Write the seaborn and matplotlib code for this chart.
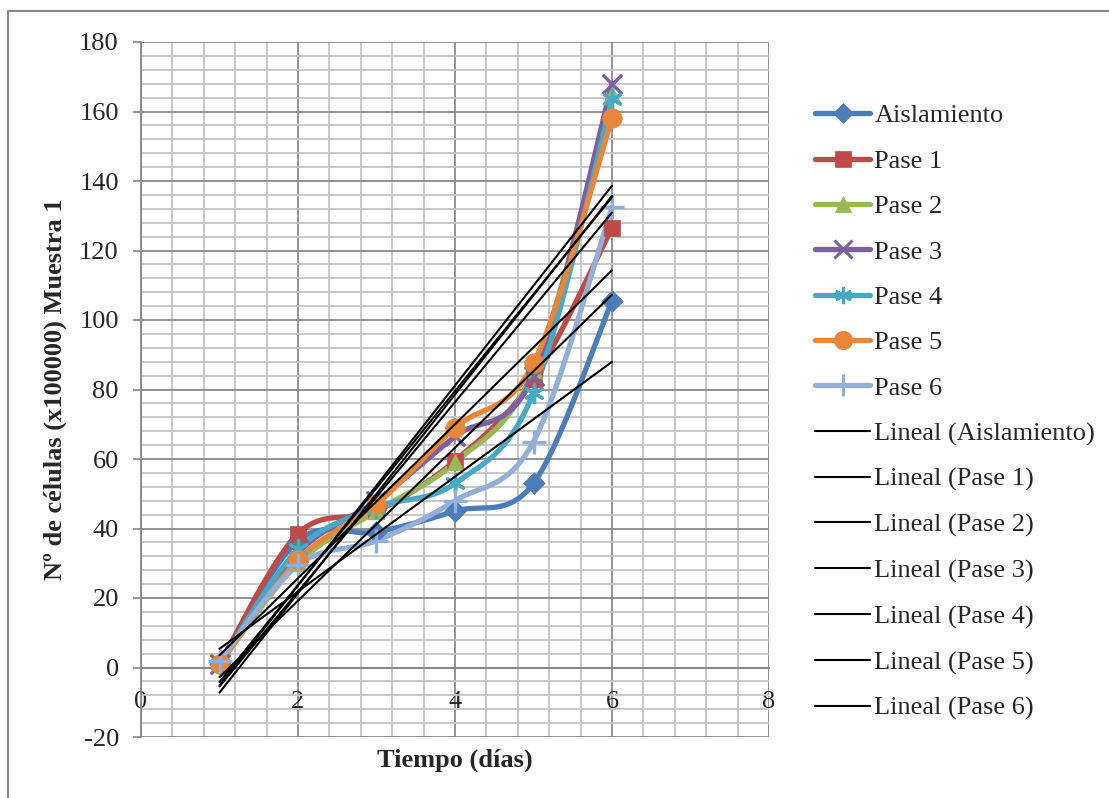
import numpy as np
import pandas as pd
import matplotlib
matplotlib.use("Agg")
import matplotlib.pyplot as plt
from matplotlib.lines import Line2D
from matplotlib.ticker import MultipleLocator
import seaborn as sns

# ---------------- data ----------------
dias = [1, 2, 3, 4, 5, 6]
aislamiento = [1, 36.5, 39, 45, 53, 105.5]
pase1 = [1, 38.5, 45, 59.5, 83, 126.5]
pase2 = [1, 30, 45, 59, 85.5, 165]
pase3 = [1, 33, 48, 66.5, 84, 168]
pase4 = [1, 34, 46, 53, 79, 163.5]
pase5 = [1, 31, 47, 69, 87.5, 158]
pase6 = [2, 29.5, 36.5, 48, 65, 132.5]

series_names = ["Aislamiento", "Pase 1", "Pase 2", "Pase 3", "Pase 4", "Pase 5", "Pase 6"]
series_values = [aislamiento, pase1, pase2, pase3, pase4, pase5, pase6]
colors = ["#4A7DBA", "#BE4B48", "#98B954", "#7D60A0", "#46AAC5", "#E8873A", "#93AFD8"]
markers = ["D", "s", "^", "x", (6, 2, 0), "o", "+"]
marker_sizes = [11, 12, 12, 14, 13, 14, 17]

x_ticks = [0, 2, 4, 6, 8]
y_ticks = [-20, 0, 20, 40, 60, 80, 100, 120, 140, 160, 180]
xlabel = "Tiempo (días)"
ylabel = "Nº de células (x100000) Muestra 1"

FS = 19
LW = 3.8


def smooth(xs, ys, n=40):
    """Excel-like smoothed line (Catmull-Rom through Bezier segments)."""
    P = np.column_stack([xs, ys]).astype(float)
    m = len(P)
    out = []
    for i in range(m - 1):
        p0 = P[i - 1] if i > 0 else P[i]
        p1 = P[i]
        p2 = P[i + 1]
        p3 = P[i + 2] if i + 2 < m else P[i + 1]
        c1 = p1 + (p2 - p0) / 6.0
        c2 = p2 - (p3 - p1) / 6.0
        t = np.linspace(0, 1, n, endpoint=(i == m - 2))[:, None]
        seg = ((1 - t) ** 3) * p1 + 3 * ((1 - t) ** 2) * t * c1 + 3 * (1 - t) * t ** 2 * c2 + t ** 3 * p2
        out.append(seg)
    out = np.vstack(out)
    return out[:, 0], out[:, 1]


sns.set_style("white")
plt.rcParams["font.family"] = ["Liberation Serif", "DejaVu Serif"]
plt.rcParams["axes.unicode_minus"] = False

fig = plt.figure(figsize=(11.09, 7.98), dpi=100)
ax = fig.add_axes([141 / 1109, 1 - 737 / 798, (769 - 141) / 1109, (737 - 42) / 798])

# grid
ax.set_xlim(0, 8)
ax.set_ylim(-20, 180)
ax.xaxis.set_major_locator(MultipleLocator(2))
ax.xaxis.set_minor_locator(MultipleLocator(0.4))
ax.yaxis.set_major_locator(MultipleLocator(20))
ax.yaxis.set_minor_locator(MultipleLocator(4))
ax.grid(which="minor", color="#c4c4c4", lw=1.3, zorder=0)
ax.grid(which="major", color="#8a8a8a", lw=1.3, zorder=0)
ax.set_axisbelow(True)

# series
for name, vals, col, mk, ms in zip(series_names, series_values, colors, markers, marker_sizes):
    sx, sy = smooth(dias, vals)
    df = pd.DataFrame({"x": sx, "y": sy})
    sns.lineplot(data=df, x="x", y="y", sort=False, estimator=None, color=col, linewidth=LW,
                 ax=ax, zorder=3)
    dm = pd.DataFrame({"x": dias, "y": vals})
    filled = mk in ("D", "s", "^", "o")
    if filled:
        sns.scatterplot(data=dm, x="x", y="y", marker=mk, s=ms ** 2, color=col, edgecolor=col,
                        linewidth=0.5, ax=ax, zorder=4)
    else:
        sns.scatterplot(data=dm, x="x", y="y", marker=mk, s=ms ** 2, color=col,
                        linewidth=2.4, ax=ax, zorder=4)

# linear trend lines
for vals in series_values:
    dm = pd.DataFrame({"x": dias, "y": vals})
    sns.regplot(data=dm, x="x", y="y", scatter=False, ci=None, truncate=True,
                line_kws=dict(color="black", lw=1.5, zorder=5), ax=ax)

# axes styling
for s in ["top", "right"]:
    ax.spines[s].set_visible(False)
ax.spines["left"].set_color("#868686")
ax.spines["left"].set_linewidth(1.3)
ax.spines["bottom"].set_position(("data", 0))
ax.spines["bottom"].set_color("#868686")
ax.spines["bottom"].set_linewidth(1.3)

ax.set_xticks(x_ticks)
ax.set_xticklabels([str(v) for v in x_ticks])
ax.set_yticks(y_ticks)
ax.set_yticklabels([str(v) for v in y_ticks])
ax.tick_params(axis="y", which="major", direction="out", length=6, width=1.2, color="#868686",
               labelsize=FS, pad=10, left=True)
ax.tick_params(axis="x", which="major", direction="out", length=0, labelsize=FS, pad=17, bottom=True)
ax.tick_params(which="minor", length=0)

ax.set_xlabel(xlabel, fontsize=FS, fontweight="bold")
ax.set_ylabel(ylabel, fontsize=FS, fontweight="bold")
ax.xaxis.set_label_coords(0.5, -0.017)
ax.yaxis.set_label_coords(-0.118, 0.5)

# legend
handles = []
labels = []
for name, col, mk, ms in zip(series_names, colors, markers, marker_sizes):
    filled = mk in ("D", "s", "^", "o")
    handles.append(Line2D([0], [0], color=col, lw=LW, marker=mk, markersize=ms * 0.95,
                          markerfacecolor=col, markeredgecolor=col,
                          markeredgewidth=0.5 if filled else 2.2))
    labels.append(name)
for name in series_names:
    handles.append(Line2D([0], [0], color="black", lw=1.5))
    labels.append("Lineal (%s)" % name)

leg = fig.legend(handles, labels, loc="upper left", bbox_to_anchor=(815 / 1109, 1 - 104 / 798),
                 bbox_transform=fig.transFigure, frameon=False, fontsize=FS,
                 handlelength=2.1, handletextpad=0.15, labelspacing=0.83, borderpad=0,
                 borderaxespad=0)

# chart border (left and top edges visible)
fig.add_artist(Line2D([8 / 1109, 8 / 1109], [0, 1 - 11 / 798], transform=fig.transFigure,
                      color="#8a8a8a", lw=1.5))
fig.add_artist(Line2D([8 / 1109, 1], [1 - 11 / 798, 1 - 11 / 798], transform=fig.transFigure,
                      color="#8a8a8a", lw=1.5))

fig.savefig("out.png", dpi=100)
